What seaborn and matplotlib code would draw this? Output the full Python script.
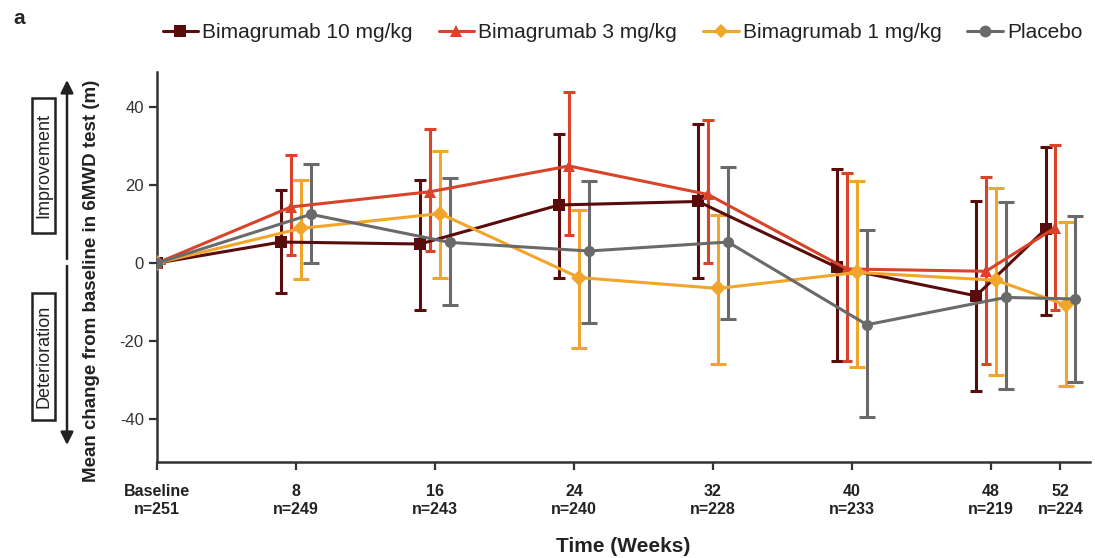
"""6MWD: среднее изменение от исходного уровня по неделям, 4 группы."""
import matplotlib
matplotlib.use("Agg")
import matplotlib.pyplot as plt
from matplotlib import font_manager
from matplotlib.patches import FancyArrowPatch, Rectangle
import pandas as pd
import seaborn as sns

weeks = [0, 8, 16, 24, 32, 40, 48, 52]
tick_labels = ["Baseline\nn=251", "8\nn=249", "16\nn=243", "24\nn=240",
               "32\nn=228", "40\nn=233", "48\nn=219", "52\nn=224"]

groups = ["Bimagrumab 10 mg/kg", "Bimagrumab 3 mg/kg", "Bimagrumab 1 mg/kg", "Placebo"]

mean_10 = [0, 5.4, 4.9, 14.9, 15.8, -1.1, -8.4, 8.7]
low_10 = [0, -7.7, -11.9, -3.7, -3.7, -25.2, -32.8, -13.2]
high_10 = [0, 18.7, 21.3, 33.1, 35.7, 24.2, 15.9, 29.7]

mean_3 = [0, 14.4, 18.3, 24.9, 17.6, -1.5, -2.1, 9.1]
low_3 = [0, 2.1, 3.1, 7.2, 0.0, -25.0, -25.8, -11.9]
high_3 = [0, 27.7, 34.3, 43.8, 36.6, 23.0, 22.1, 30.4]

mean_1 = [0, 8.9, 12.7, -3.7, -6.5, -2.4, -4.4, -10.7]
low_1 = [0, -4.2, -3.7, -21.7, -25.8, -26.7, -28.8, -31.4]
high_1 = [0, 21.4, 28.7, 13.6, 12.3, 21.0, 19.3, 10.6]

mean_pl = [0, 12.5, 5.3, 3.1, 5.4, -15.8, -8.8, -9.2]
low_pl = [0, 0.0, -10.7, -15.4, -14.3, -39.5, -32.2, -30.5]
high_pl = [0, 25.3, 21.7, 21.0, 24.7, 8.5, 15.7, 12.1]

# стиль
colors = ["#5a0b0b", "#d8432a", "#f2a52b", "#6a6a6a"]
markers = ["s", "^", "D", "o"]
msizes = [8.5, 9, 7, 8.5]
dodge = [-0.86, -0.29, 0.29, 0.86]

names = [f.name for f in font_manager.fontManager.ttflist]
narrow = "Liberation Sans Narrow" if "Liberation Sans Narrow" in names else "Liberation Sans"

sns.set_theme(style="ticks")
plt.rcParams["font.family"] = ["Liberation Sans", "DejaVu Sans"]

series = [(mean_10, low_10, high_10), (mean_3, low_3, high_3),
          (mean_1, low_1, high_1), (mean_pl, low_pl, high_pl)]

rows = []
for g, (m, lo, hi), d in zip(groups, series, dodge):
    for w, mv, l, h in zip(weeks, m, lo, hi):
        x = w + (d if w > 0 else 0)
        rows.append({"group": g, "x": x, "mean": mv, "low": l, "high": h})
df = pd.DataFrame(rows)

W, H = 1095, 558
fig = plt.figure(figsize=(W / 100, H / 100), dpi=100)
ax = fig.add_axes([157 / W, 1 - 462 / H, 933 / W, 390 / H])

for g, c in zip(groups, colors):
    sub = df[df["group"] == g]
    ax.errorbar(sub["x"], sub["mean"],
                yerr=[sub["mean"] - sub["low"], sub["high"] - sub["mean"]],
                fmt="none", ecolor=c, elinewidth=2.2, capsize=5.5, capthick=2.2,
                zorder=2)

palette = dict(zip(groups, colors))
sns.lineplot(data=df, x="x", y="mean", hue="group", style="group",
             hue_order=groups, style_order=groups, palette=palette,
             markers=dict(zip(groups, markers)), dashes=False,
             linewidth=2.2, markersize=8, markeredgewidth=0,
             sort=True, legend=False, ax=ax, zorder=3)
for line, ms in zip(ax.get_lines(), msizes):
    line.set_markersize(ms)

ax.set_xlim(0, 53.7)
ax.set_ylim(-51, 49)
ax.set_xticks(weeks)
ax.set_xticklabels(tick_labels, fontsize=11.5, fontweight="bold",
                   family=narrow, color="#222222")
ax.set_yticks([-40, -20, 0, 20, 40])
ax.set_yticklabels(["-40", "-20", "0", "20", "40"], fontsize=12, color="#333333")
ax.tick_params(axis="both", direction="out", length=6, width=1.6, color="#333333")
ax.tick_params(axis="x", pad=10)
for s in ["top", "right"]:
    ax.spines[s].set_visible(False)
for s in ["left", "bottom"]:
    ax.spines[s].set_linewidth(1.8)
    ax.spines[s].set_color("#333333")

ax.set_xlabel("Time (Weeks)", fontsize=15, fontweight="bold", family=narrow,
              labelpad=15, color="#222222")
ax.set_ylabel("Mean change from baseline in 6MWD test (m)", fontsize=13.5,
              fontweight="bold", color="#222222")
ax.yaxis.set_label_coords(-0.061, 0.464)

# стрелки и подписи слева
for y0, y1 in [(259, 80), (266, 445)]:
    fig.add_artist(FancyArrowPatch(
        (67 / W, 1 - y0 / H), (67 / W, 1 - y1 / H),
        transform=fig.transFigure, arrowstyle="-|>", mutation_scale=19,
        color="#222222", linewidth=1.8, shrinkA=0, shrinkB=0))
for label, y_top, y_bot in [("Improvement", 98, 233), ("Deterioration", 293, 420)]:
    fig.add_artist(Rectangle((32 / W, 1 - y_bot / H), 23 / W, (y_bot - y_top) / H,
                             transform=fig.transFigure, fill=False,
                             edgecolor="#222222", linewidth=1.8))
    fig.text(44 / W, 1 - (y_top + y_bot) / 2 / H, label, rotation=90,
             ha="center", va="center", fontsize=13, color="#222222")
fig.text(13 / W, 1 - 18 / H, "a", fontsize=15, fontweight="bold",
         ha="left", va="center")

handles = [plt.Line2D([], [], color=c, marker=mk, markersize=ms, linewidth=2.2,
                      markeredgewidth=0)
           for c, mk, ms in zip(colors, markers, msizes)]
fig.legend(handles, groups, loc="center", bbox_to_anchor=(0.5685, 1 - 33 / H),
           ncol=4, frameon=False, fontsize=15, handlelength=1.7,
           handletextpad=0.2, columnspacing=1.25, labelcolor="#222222")

fig.savefig("out.png", dpi=100)
